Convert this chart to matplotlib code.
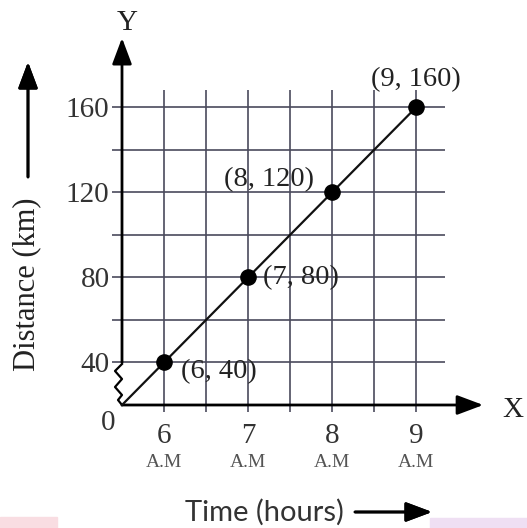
import matplotlib.pyplot as plt
from matplotlib.patches import Rectangle
import numpy as np

# Data
time = [6, 7, 8, 9]
distance = [40, 80, 120, 160]
point_labels = ['(6, 40)', '(7, 80)', '(8, 120)', '(9, 160)']
x_ticks = [6, 6.5, 7, 7.5, 8, 8.5, 9]
x_ticklabels = ['6', '', '7', '', '8', '', '9']
y_ticks = [40, 60, 80, 100, 120, 140, 160]
y_ticklabels = ['40', '', '80', '', '120', '', '160']

serif = 'Liberation Serif'
grid_col = '#4a4a5c'

fig = plt.figure(figsize=(5.27, 5.28), dpi=100)
ax = fig.add_axes([122 / 527, 123 / 528, 323 / 527, 315 / 528])
x0, y0 = 5.5, 20
ax.set_xlim(x0, 9.345)
ax.set_ylim(y0, 168.2)

# grid + ticks
ax.set_xticks(x_ticks)
ax.set_xticklabels(x_ticklabels, fontfamily=serif, fontsize=21)
ax.set_yticks(y_ticks)
ax.set_yticklabels(y_ticklabels, fontfamily=serif, fontsize=21)
ax.tick_params(axis='x', length=5, width=1.2, color=grid_col, pad=8)
ax.tick_params(axis='y', length=7, width=1.2, color=grid_col, pad=2)
ax.grid(True, color=grid_col, lw=1.2)
for lab in ax.get_xticklabels() + ax.get_yticklabels():
    lab.set_color('#333333')

for s in ['top', 'right', 'bottom', 'left']:
    ax.spines[s].set_visible(False)

# axes with arrows
arrow = dict(arrowstyle='-|>,head_length=0.8,head_width=0.3', color='black',
             lw=2, mutation_scale=20, shrinkA=0, shrinkB=0)
ax.annotate('', xy=(9.80, y0), xytext=(x0, y0), arrowprops=arrow,
            annotation_clip=False)
ax.annotate('', xy=(x0, 192.7), xytext=(x0, 40), arrowprops=arrow,
            annotation_clip=False)

# zigzag axis break between 0 and 40
zx = np.array([0, -7, 0, -7, 0, -4, 0]) / 84
zy = np.array([364, 371, 379, 387, 395, 400, 405])
ax.plot(x0 + zx, y0 + (405 - zy) / 2.125, color='black', lw=1.6,
        clip_on=False, solid_joinstyle='round')

# line from origin through the points
slope = (distance[1] - distance[0]) / (time[1] - time[0])
start = distance[0] - slope * (time[0] - x0)
ax.plot([x0] + time, [start] + distance, color='#111111', lw=1.6,
        clip_on=False, zorder=3)
ax.scatter(time, distance, s=120, color='black', zorder=4, clip_on=False)

offsets = [(12, -6.5, 'left'), (11, 0, 'left'), (-13, 9.5, 'right'),
           (0, 20, 'center')]
for t, d, lab, (dx, dy, ha) in zip(time, distance, point_labels, offsets):
    ax.annotate(lab, (t, d), xytext=(dx, dy), textcoords='offset points',
                ha=ha, va='center', fontfamily=serif, fontsize=20.5,
                color='#222222', annotation_clip=False)

# A.M under the hours
trans = ax.get_xaxis_transform()
for t in time:
    ax.text(t, -0.181, 'A.M', transform=trans, ha='center', va='center',
            fontfamily=serif, fontsize=14, color='#555555')

ax.text(5.333, 11.5, '0', ha='center', va='center', fontfamily=serif,
        fontsize=21, color='#333333')
ax.text(5.56, 199.5, 'Y', ha='center', va='center', fontfamily=serif,
        fontsize=21, color='#222222')
ax.text(10.15, 17.6, 'X', ha='center', va='center', fontfamily=serif,
        fontsize=21, color='#222222')

# axis titles with arrows
fig.text(27 / 527, 1 - 284 / 528, 'Distance (km)', rotation=90, ha='center',
         va='center', fontfamily=serif, fontsize=22, color='#222222')
fig.text(264 / 527, 1 - 512 / 528, 'Time (hours)', ha='center', va='center',
         fontfamily='Lato', fontsize=21, color='#333333')
fig_arrow = dict(arrowstyle='-|>,head_length=0.8,head_width=0.3',
                 color='black', lw=2, mutation_scale=20, shrinkA=0, shrinkB=0)
fig.add_artist(plt.annotate('', xy=(28 / 527, 1 - 62 / 528),
                            xytext=(28 / 527, 1 - 177 / 528),
                            xycoords='figure fraction',
                            textcoords='figure fraction',
                            arrowprops=fig_arrow))
fig.add_artist(plt.annotate('', xy=(432 / 527, 1 - 512 / 528),
                            xytext=(355 / 527, 1 - 512 / 528),
                            xycoords='figure fraction',
                            textcoords='figure fraction',
                            arrowprops=fig_arrow))

# faint coloured strips at the bottom corners
fig.patches.append(Rectangle((0, 0), 57 / 527, 11 / 528, color='#f9dde2',
                             transform=fig.transFigure, figure=fig))
fig.patches.append(Rectangle((430 / 527, 0), 97 / 527, 10 / 528,
                             color='#efdff3', transform=fig.transFigure,
                             figure=fig))

fig.savefig('out.png', dpi=100)
